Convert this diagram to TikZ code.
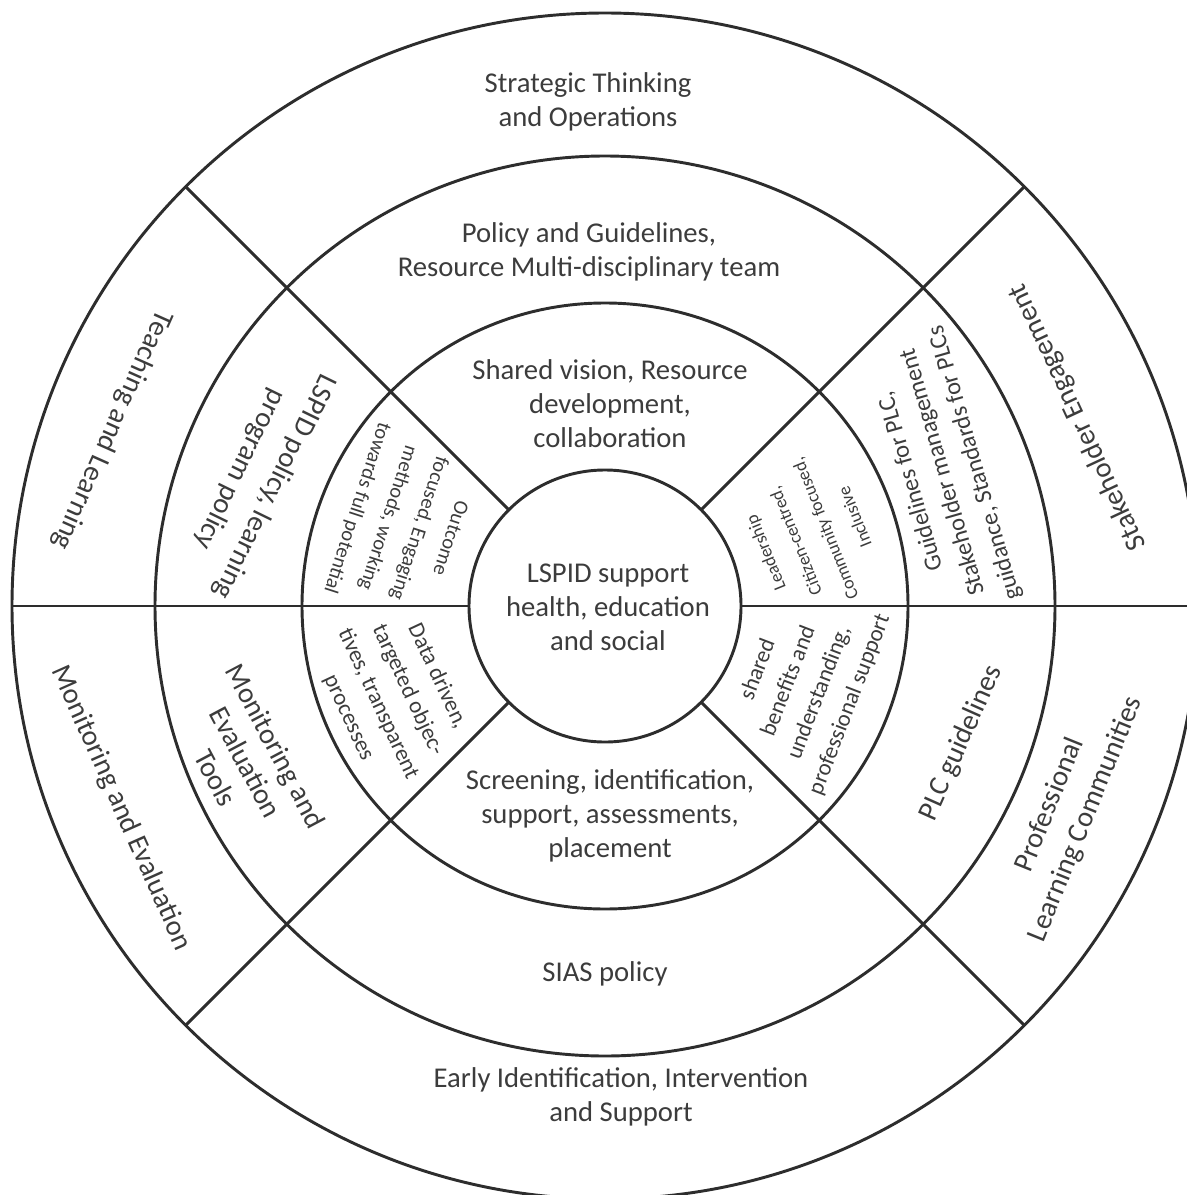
\documentclass[tikz,border=0pt]{standalone}
\usepackage{fontspec}
\setmainfont{Carlito}

\tikzset{every picture/.style={line width=2.2pt}}
\tikzset{
  ringline/.style={color={rgb, 255:red, 45; green, 45; blue, 45}},
  biglbl/.style={inner sep=0.75pt, align=center, text={rgb, 255:red, 60; green, 60; blue, 60}, font=\fontsize{21.5}{25.5}\selectfont},
  widelbl/.style={biglbl, font=\fontsize{21.5}{29}\selectfont},
  midlbl/.style={biglbl, font=\fontsize{18.3}{25}\selectfont},
  smalllbl/.style={biglbl, font=\fontsize{17.2}{24.5}\selectfont},
  tinylbl/.style={biglbl, font=\fontsize{15.4}{24.5}\selectfont},
  minilbl/.style={biglbl, font=\fontsize{13.5}{24}\selectfont}
}

\begin{document}
\begin{tikzpicture}[x=0.75pt,y=0.75pt,yscale=-1,xscale=1]
	\useasboundingbox (0,0) rectangle (1187,1195);
	\clip (0,0) rectangle (1187,1195);
	
	%Shape: Circle (outer)
	\draw [ringline]  (605,606) circle [radius=593] ;
	%Shape: Circle
	\draw [ringline]  (605,606) circle [radius=450] ;
	%Shape: Circle
	\draw [ringline]  (605,606) circle [radius=303] ;
	%Shape: Circle (core)
	\draw [ringline]  (605,606) circle [radius=136] ;
	
	%Straight Lines (left)
	\draw [ringline]    (12,606) -- (469,606) ;
	%Straight Lines (right)
	\draw [ringline]    (741,606) -- (1198,606) ;
	%Straight Lines (top left)
	\draw [ringline]    (185.7,186.7) -- (508.8,509.8) ;
	%Straight Lines (top right)
	\draw [ringline]    (1024.3,186.7) -- (701.2,509.8) ;
	%Straight Lines (bottom left)
	\draw [ringline]    (185.7,1025.3) -- (508.8,702.2) ;
	%Straight Lines (bottom right)
	\draw [ringline]    (1024.3,1025.3) -- (701.2,702.2) ;
	
	% Text Node
	\draw (588,102) node (stratops) [biglbl]  {Strategic Thinking\\and Operations};
	% Text Node
	\draw (589,252) node (policyteam) [biglbl]  {Policy and Guidelines,\\Resource Multi-disciplinary team};
	% Text Node
	\draw (610,404) node (sharedvis) [biglbl]  {Shared vision, Resource\\development,\\collaboration};
	% Text Node
	\draw (608,607) node (lspidcore) [biglbl]  {LSPID support\\health, education\\and social};
	% Text Node
	\draw (610,816) node (screening) [biglbl]  {Screening, identification,\\support, assessments,\\placement};
	% Text Node
	\draw (605,974) node (siaspol) [biglbl]  {SIAS policy};
	% Text Node
	\draw (621,1097) node (earlyid) [biglbl]  {Early Identification, Intervention\\and Support};
	
	% Text Node
	\draw (112,430) node (teachlearn) [biglbl, rotate=-114]  {Teaching and Learning};
	% Text Node
	\draw (257,478) node (lspidpol) [widelbl, rotate=-116]  {LSPID policy, learning\\program policy};
	% Text Node
	\draw (403,523) node (outcome) [tinylbl, rotate=-108]  {Outcome\\focused, Engaging\\methods, working\\towards full potential};
	
	% Text Node
	\draw (121,808) node (monevalout) [biglbl, rotate=-66]  {Monitoring and Evaluation};
	% Text Node
	\draw (246,762) node (monevaltools) [biglbl, rotate=-62]  {Monitoring and\\Evaluation\\Tools};
	% Text Node
	\draw (393,697) node (datadriven) [smalllbl, rotate=-65]  {Data driven,\\targeted objec-\\tives, transparent\\processes};
	
	% Text Node
	\draw (1078,417) node (stakeeng) [biglbl, rotate=115]  {Stakeholder Engagement};
	% Text Node
	\draw (943,472) node (plcguidance) [midlbl, rotate=106]  {Guidelines for PLC,\\Stakeholder management\\guidance, Standards for PLCs};
	% Text Node
	\draw (810,535) node (leadership) [minilbl, rotate=112]  {Leadership\\Citizen-centred,\\Community focused,\\Inclusive};
	
	% Text Node
	\draw (1068,812) node (plccomm) [widelbl, rotate=68]  {Professional\\Learning Communities};
	% Text Node
	\draw (961,743) node (plcguide) [biglbl, rotate=66]  {PLC guidelines};
	% Text Node
	\draw (804,687) node (sharedben) [smalllbl, rotate=69]  {shared\\benefits and\\understanding,\\professional support};
	
\end{tikzpicture}
\end{document}
